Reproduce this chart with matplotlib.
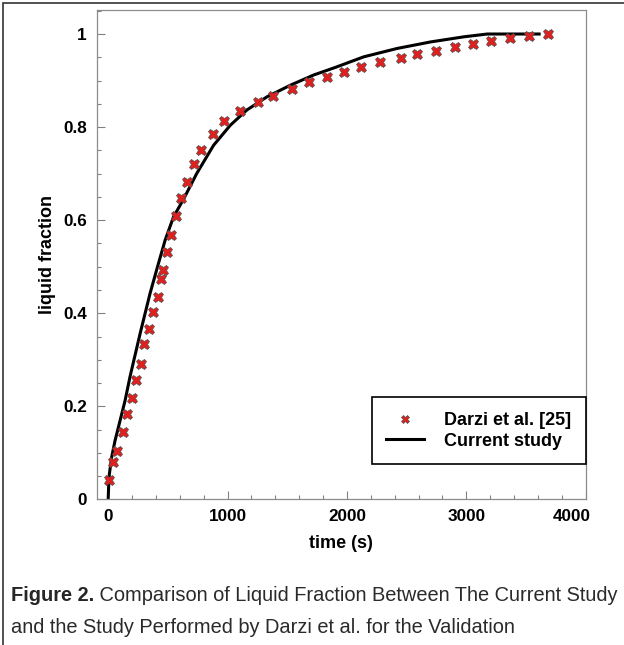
import matplotlib
matplotlib.use("Agg")
import matplotlib.pyplot as plt
import matplotlib.transforms as mtransforms
from matplotlib.patches import Rectangle
from matplotlib.ticker import MultipleLocator

plt.rcParams['font.family'] = ['Liberation Sans', 'DejaVu Sans']

# Darzi et al. [25] reference data
darzi_t = [8, 44, 72, 128, 161, 198, 231, 273, 304, 343, 374, 416, 441, 463,
           492, 525, 567, 606, 659, 721, 779, 874, 967, 1107, 1255, 1381,
           1540, 1680, 1834, 1973, 2119, 2275, 2449, 2583, 2745, 2902, 3059,
           3210, 3366, 3529, 3688]
darzi_lf = [0.041, 0.081, 0.104, 0.145, 0.183, 0.218, 0.256, 0.292, 0.334,
            0.367, 0.402, 0.435, 0.473, 0.494, 0.531, 0.569, 0.609, 0.648,
            0.683, 0.720, 0.751, 0.785, 0.814, 0.834, 0.854, 0.867, 0.881,
            0.896, 0.908, 0.918, 0.929, 0.939, 0.948, 0.956, 0.964, 0.972,
            0.979, 0.986, 0.991, 0.996, 1.0]

# current simulation
study_t = [0, 4, 10, 30, 58, 100, 142, 184, 268, 351, 421, 477, 547, 631,
           743, 883, 1023, 1163, 1330, 1526, 1722, 1900, 2141, 2421, 2701,
           2980, 3176, 3610]
study_lf = [0, 0.03, 0.055, 0.092, 0.127, 0.170, 0.213, 0.265, 0.357, 0.443,
            0.507, 0.557, 0.607, 0.645, 0.701, 0.761, 0.804, 0.837, 0.865,
            0.890, 0.912, 0.928, 0.951, 0.969, 0.983, 0.994, 1.0, 1.0]

x_ticks = [0, 1000, 2000, 3000, 4000]
y_ticks = [0, 0.2, 0.4, 0.6, 0.8, 1]
y_tick_labels = ['0', '0.2', '0.4', '0.6', '0.8', '1']

fig = plt.figure(figsize=(6.24, 6.45), dpi=100)
ax = fig.add_axes([0.155, 0.2256, 0.7836, 0.7589])

ax.plot(darzi_t, darzi_lf, linestyle='none', marker='X', markersize=7.5,
        markerfacecolor='#e0201f', markeredgecolor='#505050',
        markeredgewidth=0.5, label='Darzi et al. [25]', zorder=3)
ax.plot(study_t, study_lf, color='black', linewidth=2.2,
        label='Current study', zorder=2)

ax.set_xlim(-96, 4000)
ax.set_ylim(0, 1.0516)
ax.set_xticks(x_ticks)
ax.set_yticks(y_ticks)
ax.set_yticklabels(y_tick_labels)
ax.xaxis.set_minor_locator(MultipleLocator(200))
ax.yaxis.set_minor_locator(MultipleLocator(0.05))

ax.tick_params(which='both', direction='in', color='#808080', width=0.8,
               labelsize=12.3, pad=7)
ax.tick_params(which='major', length=5.5)
ax.tick_params(which='minor', length=3)
for lab in ax.get_xticklabels() + ax.get_yticklabels():
    lab.set_fontweight('bold')
for sp in ax.spines.values():
    sp.set_color('#8c8c8c')
    sp.set_linewidth(0.9)

# pull the last x label back inside the frame
last = ax.get_xticklabels()[-1]
last.set_transform(last.get_transform() +
                   mtransforms.ScaledTranslation(-0.14, 0, fig.dpi_scale_trans))

ax.set_xlabel('time (s)', fontsize=13, fontweight='bold', labelpad=8)
ax.set_ylabel('liquid fraction', fontsize=13, fontweight='bold', labelpad=5)

leg = ax.legend(loc='lower right', bbox_to_anchor=(1.0, 0.0725),
                borderaxespad=0, fontsize=13, frameon=True, fancybox=False,
                borderpad=0.8, labelspacing=0.2, handlelength=2.1,
                handletextpad=1.1, markerscale=0.75, edgecolor='black')
leg.get_frame().set_linewidth(1.2)
leg.get_frame().set_alpha(None)
for t in leg.get_texts():
    t.set_fontweight('bold')

# caption and page frame
fig.patches.append(Rectangle((3 / 624, -0.1), 2, 1.1 - 3 / 645,
                             transform=fig.transFigure, fill=False,
                             edgecolor='#333333', linewidth=1.2))
cap_size = 14.4
cap = fig.text(11 / 624, 1 - 601 / 645, 'Figure 2.', fontsize=cap_size,
               fontweight='bold', color='#262626', va='baseline')
ax.annotate(' Comparison of Liquid Fraction Between The Current Study',
            xy=(1, 0), xycoords=cap, va='bottom', ha='left',
            fontsize=cap_size, color='#2a2a2a', annotation_clip=False)
fig.text(11 / 624, 1 - 633 / 645,
         'and the Study Performed by Darzi et al. for the Validation',
         fontsize=cap_size, color='#2a2a2a', va='baseline')

fig.savefig('out.png', dpi=100)
